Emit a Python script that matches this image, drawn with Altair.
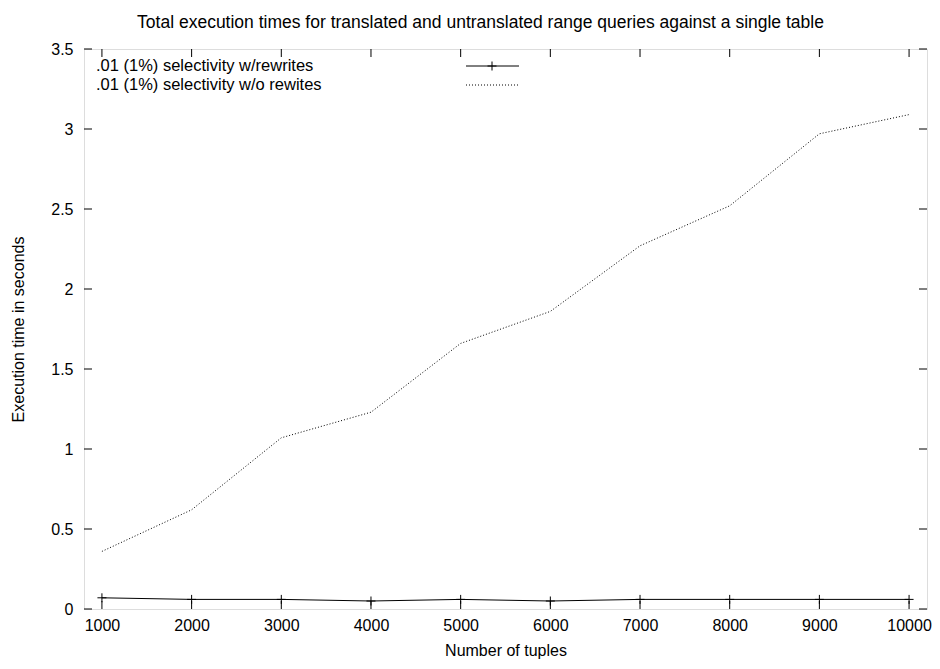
import altair as alt
import pandas as pd

tuples = [1000, 2000, 3000, 4000, 5000, 6000, 7000, 8000, 9000, 10000]
with_rewrites = [0.07, 0.06, 0.06, 0.05, 0.06, 0.05, 0.06, 0.06, 0.06, 0.06]
without_rewrites = [0.36, 0.62, 1.07, 1.23, 1.66, 1.86, 2.27, 2.52, 2.97, 3.09]
x_ticks = [1000, 2000, 3000, 4000, 5000, 6000, 7000, 8000, 9000, 10000]
y_ticks = [0, 0.5, 1, 1.5, 2, 2.5, 3, 3.5]
labels = [".01 (1%) selectivity w/rewrites", ".01 (1%) selectivity w/o rewites"]
title = "Total execution times for translated and untranslated range queries against a single table"

W, H = 843, 560
FONT = "Liberation Sans"
TICKF = 16
LEGF = 16.5
TITLEF = 17.5

df1 = pd.DataFrame({"tuples": tuples, "time": with_rewrites})
df2 = pd.DataFrame({"tuples": tuples, "time": without_rewrites})
dfx = pd.DataFrame({"v": x_ticks})
dfy = pd.DataFrame({"v": y_ticks})
one = pd.DataFrame({"a": [0]})

xs = alt.Scale(domain=[800, 10200], nice=False, zero=False)
ys = alt.Scale(domain=[0, 3.5], nice=False, zero=True)

xaxis = alt.Axis(values=x_ticks, format="d", ticks=False, domain=False, grid=False,
                 labelPadding=8, labelFontSize=TICKF, labelFont=FONT, labelColor="black",
                 title="Number of tuples", titleFontSize=TICKF, titleFont=FONT,
                 titleFontWeight="normal", titleColor="black", titlePadding=9)
yaxis = alt.Axis(values=y_ticks, format="~g", ticks=False, domain=False, grid=False,
                 labelPadding=11, labelFontSize=TICKF, labelFont=FONT, labelColor="black",
                 title="Execution time in seconds", titleFontSize=TICKF, titleFont=FONT,
                 titleFontWeight="normal", titleColor="black", titleX=-66, titleY=H / 2,
                 titleBaseline="middle")

plus = "M-1,0L1,0M0,-1L0,1"

line1 = alt.Chart(df1).mark_line(color="black", strokeWidth=1).encode(
    x=alt.X("tuples:Q", scale=xs, axis=xaxis),
    y=alt.Y("time:Q", scale=ys, axis=yaxis),
)
pts1 = alt.Chart(df1).mark_point(shape=plus, size=81, color="black", strokeWidth=1, filled=False, opacity=1).encode(
    x=alt.X("tuples:Q", scale=xs),
    y=alt.Y("time:Q", scale=ys),
)
line2 = alt.Chart(df2).mark_line(color="black", strokeWidth=1, strokeDash=[1, 2]).encode(
    x=alt.X("tuples:Q", scale=xs),
    y=alt.Y("time:Q", scale=ys),
)

tb = alt.Chart(dfx).mark_rule(color="black", strokeWidth=1).encode(
    x=alt.X("v:Q", scale=xs), y=alt.value(H), y2=alt.value(H - 8))
tt = alt.Chart(dfx).mark_rule(color="black", strokeWidth=1).encode(
    x=alt.X("v:Q", scale=xs), y=alt.value(0), y2=alt.value(8))
tl = alt.Chart(dfy).mark_rule(color="black", strokeWidth=1).encode(
    y=alt.Y("v:Q", scale=ys), x=alt.value(0), x2=alt.value(8))
tr = alt.Chart(dfy).mark_rule(color="black", strokeWidth=1).encode(
    y=alt.Y("v:Q", scale=ys), x=alt.value(W), x2=alt.value(W - 8))

leg_t1 = alt.Chart(one).mark_text(text=labels[0], align="left", baseline="middle",
                                  font=FONT, fontSize=LEGF, color="black").encode(
    x=alt.value(12), y=alt.value(17))
leg_t2 = alt.Chart(one).mark_text(text=labels[1], align="left", baseline="middle",
                                  font=FONT, fontSize=LEGF, color="black").encode(
    x=alt.value(12), y=alt.value(36))
leg_l1 = alt.Chart(one).mark_rule(color="black", strokeWidth=1).encode(
    x=alt.value(382), x2=alt.value(435), y=alt.value(17))
leg_p1 = alt.Chart(one).mark_point(shape=plus, size=81, color="black", strokeWidth=1, opacity=1).encode(
    x=alt.value(408), y=alt.value(17))
leg_l2 = alt.Chart(one).mark_rule(color="black", strokeWidth=1, strokeDash=[1, 2]).encode(
    x=alt.value(382), x2=alt.value(435), y=alt.value(36))

chart = alt.layer(
    line1, pts1, line2, tb, tt, tl, tr, leg_t1, leg_t2, leg_l1, leg_p1, leg_l2
).properties(
    width=W, height=H,
    title=alt.TitleParams(title, font=FONT, fontSize=TITLEF, fontWeight="normal",
                          color="black", anchor="middle", offset=10, dx=-25),
    autosize=alt.AutoSizeParams(type="none"),
    padding={"left": 76, "top": 41, "right": 5, "bottom": 52},
).configure_view(stroke="black", strokeWidth=1.5).configure(background="white")

chart.save("out.html", embed_options={"renderer": "svg", "actions": False})
